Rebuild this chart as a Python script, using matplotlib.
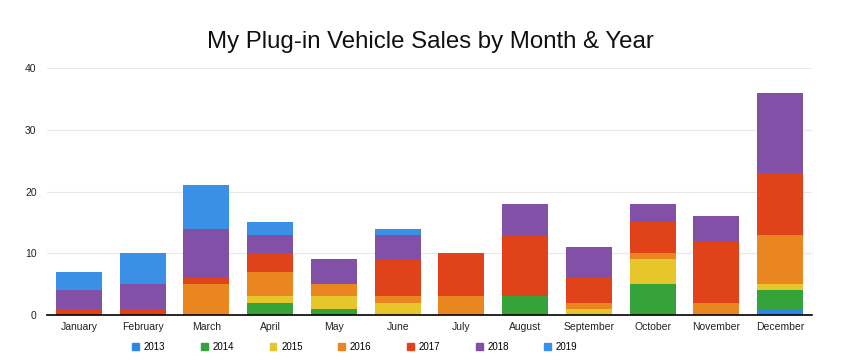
import numpy as np
import matplotlib.pyplot as plt
from matplotlib.patches import Patch

plt.rcParams['font.family'] = ['Liberation Sans', 'DejaVu Sans']

months = ["January", "February", "March", "April", "May", "June",
          "July", "August", "September", "October", "November", "December"]
years = ["2013", "2014", "2015", "2016", "2017", "2018", "2019"]

# sales per month, one list per year (stacked bottom to top)
s2013 = [0, 0, 0, 0, 0, 0, 0, 0, 0, 0, 0, 1]
s2014 = [0, 0, 0, 2, 1, 0, 0, 3, 0, 5, 0, 3]
s2015 = [0, 0, 0, 1, 2, 2, 0, 0, 1, 4, 0, 1]
s2016 = [0, 0, 5, 4, 2, 1, 3, 0, 1, 1, 2, 8]
s2017 = [1, 1, 1, 3, 0, 6, 7, 10, 4, 5, 10, 10]
s2018 = [3, 4, 8, 3, 4, 4, 0, 5, 5, 3, 4, 13]
s2019 = [3, 5, 7, 2, 0, 1, 0, 0, 0, 0, 0, 0]

series = [s2013, s2014, s2015, s2016, s2017, s2018, s2019]
colors = ["#2f86dd", "#35a33a", "#e6c62a", "#e9861f", "#e0421a", "#8350a8", "#3a90e4"]

fig = plt.figure(figsize=(8.42, 3.6), dpi=100)
ax = fig.add_axes([47 / 842, 45 / 360, 765 / 842, 247 / 360])

x = np.arange(len(months))
bottom = np.zeros(len(months))
for vals, col, yr in zip(series, colors, years):
    ax.bar(x, vals, 0.72, bottom=bottom, color=col, label=yr, zorder=3)
    bottom += np.array(vals)

ax.set_xlim(-0.5, 11.5)
ax.set_ylim(0, 40)
ax.set_yticks([0, 10, 20, 30, 40])
ax.set_xticks(x)
ax.set_xticklabels(months)
ax.tick_params(axis='both', length=0, labelsize=7.5, colors='#222222')
ax.tick_params(axis='y', pad=7.5)
ax.tick_params(axis='x', pad=5)
ax.grid(axis='y', color='#e8e8e8', linewidth=0.8, zorder=0)
for s in ['top', 'right', 'left']:
    ax.spines[s].set_visible(False)
ax.spines['bottom'].set_color('black')
ax.spines['bottom'].set_linewidth(1.2)
ax.spines['bottom'].set_zorder(4)

fig.text(430 / 842, 1 - 42 / 360, "My Plug-in Vehicle Sales by Month & Year",
         ha='center', va='center', fontsize=17.3, color='#111111')

handles = [Patch(color=c, label=y) for c, y in zip(colors, years)]
fig.legend(handles=handles, loc='center', bbox_to_anchor=(355 / 842, 1 - 347 / 360),
           ncol=7, frameon=False, fontsize=7, handlelength=0.7, handleheight=0.7,
           handletextpad=0.5, columnspacing=3.65)

fig.savefig("out.png", dpi=100)
